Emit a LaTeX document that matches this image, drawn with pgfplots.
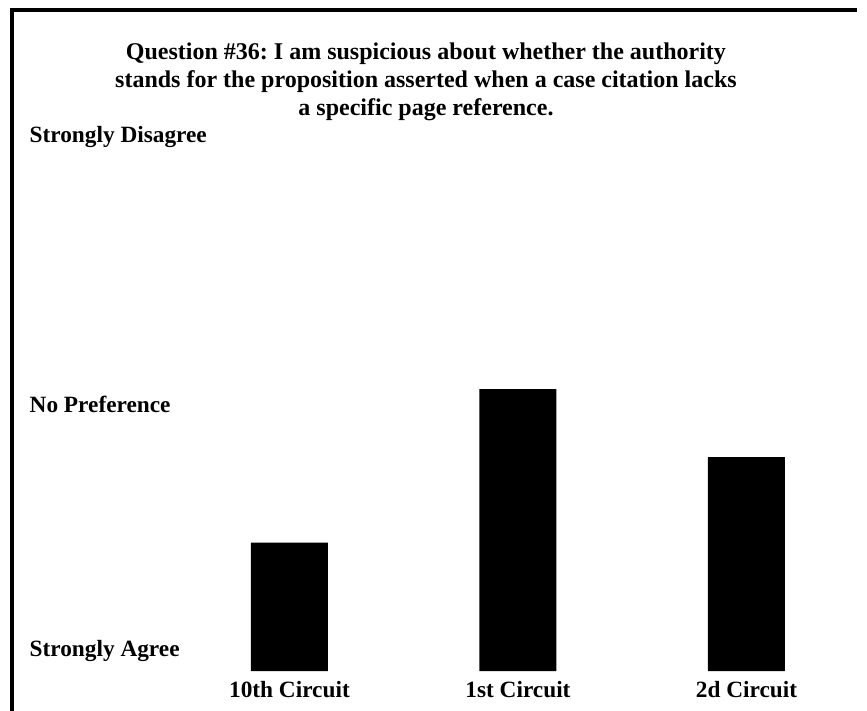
\documentclass[border=0pt]{standalone}
\usepackage{fontspec}
\setmainfont{Liberation Serif}
\usepackage{pgfplots}
\pgfplotsset{compat=1.18}
\frenchspacing
\begin{document}
\begin{tikzpicture}
\useasboundingbox (0pt,0pt) rectangle (867pt,-711pt);
\draw[line width=3.2pt] (12pt,-711pt) -- (12pt,-10pt) -- (857pt,-10pt);
\node[font=\fontsize{24}{28.3}\selectfont\bfseries, align=center, anchor=base] at (426pt,-116pt)
  {Question \#36: I am suspicious about whether the authority\\
   stands for the proposition asserted when a case citation lacks\\
   a specific page reference.};
\begin{axis}[
  at={(83.8pt,-671pt)}, anchor=south west,
  scale only axis, width=765.5pt, height=552.9pt,
  xmin=-0.9, xmax=2.45, ymin=0.877, ymax=5.2,
  ybar, bar width=77pt,
  axis line style={draw=none}, major tick length=0pt,
  xtick={0,1,2}, xticklabels={10th Circuit, 1st Circuit, 2d Circuit},
  ytick={0.994,2.9,5.01},
  yticklabels={Strongly Agree, No Preference, Strongly Disagree},
  ticklabel style={font=\fontsize{23.3}{28}\selectfont\bfseries, inner sep=0pt},
  xticklabel style={anchor=base, yshift=-26pt},
  yticklabel style={anchor=base west, xshift=-54.3pt},
]
\addplot[fill=black, draw=none] coordinates {(0,1.88) (1,3.08) (2,2.55)};
\end{axis}
\end{tikzpicture}
\end{document}
